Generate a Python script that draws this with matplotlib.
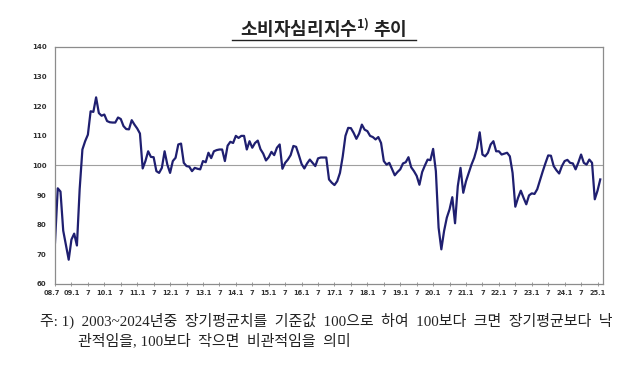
import numpy as np
import matplotlib.pyplot as plt
import matplotlib.transforms as mtransforms
from matplotlib.lines import Line2D

plt.rcParams['font.family'] = ['Noto Sans CJK KR', 'DejaVu Sans']

# consumer sentiment index, monthly, 2008.7 ~ 2025.2
y2008 = [74, 92.3, 91.2, 78, 73, 68.2]  # Jul-Dec
y2009 = [75, 77, 73, 92, 105.4, 108.2, 110.4, 118.3, 118.1, 123, 117.7, 116.8]
y2010 = [117.2, 115, 114.6, 114.5, 114.5, 116.2, 115.7, 113.3, 112.3, 112.2, 115.3, 113.8]
y2011 = [112.5, 110.8, 99, 101.5, 104.8, 102.9, 102.8, 98.1, 97.5, 99.2, 104.8, 100.3]
y2012 = [97.5, 101.5, 102.6, 107.1, 107.4, 100.9, 99.8, 99.6, 98.1, 99.2, 98.9, 98.7]
y2013 = [101.5, 101.1, 104.3, 102.5, 104.8, 105.2, 105.4, 105.4, 101.5, 106.7, 108, 107.6]
y2014 = [110, 109.3, 110, 110, 105.4, 108.2, 106, 107.6, 108.4, 105.5, 104, 101.7]
y2015 = [102.8, 104.6, 103.5, 106, 107.1, 98.9, 100.9, 102, 103.5, 106.6, 106.3, 103.5]
y2016 = [100.5, 99, 100.7, 102, 100.9, 99.8, 102.4, 102.7, 102.7, 102.7, 95.3, 94.2]
y2017 = [93.4, 94.7, 97.5, 103, 110, 112.7, 112.6, 111, 109, 110.8, 113.8, 112.1]
y2018 = [111.6, 110, 109.6, 108.8, 109.6, 107.6, 101.5, 100.3, 100.9, 98.8, 96.7, 97.8]
y2019 = [98.7, 100.7, 101.1, 102.8, 99.4, 98.1, 96.5, 93.5, 97.8, 100, 102, 101.8]
y2020 = [105.6, 98.1, 79, 71.7, 77.9, 82.4, 85.2, 89.3, 80.5, 93, 99.2, 90.8]
y2021 = [94.7, 97.5, 100.3, 102.6, 105.9, 111.2, 103.7, 103.1, 104.3, 107.1, 108.2, 104.8]
y2022 = [104.8, 103.7, 104, 104.3, 103.1, 97.5, 86.1, 89.1, 91.5, 89.1, 86.9, 89.9]
y2023 = [90.6, 90.4, 92, 95, 98, 100.8, 103.4, 103.3, 99.8, 98.4, 97.3, 99.8]
y2024 = [101.5, 101.9, 100.9, 100.7, 98.7, 101, 103.7, 100.9, 100.3, 102, 100.9, 88.6]
y2025 = [91.5, 95.3]  # Jan-Feb

values = (y2008 + y2009 + y2010 + y2011 + y2012 + y2013 + y2014 + y2015 + y2016
          + y2017 + y2018 + y2019 + y2020 + y2021 + y2022 + y2023 + y2024 + y2025)
months = np.arange(len(values))  # 0 = 2008.7

tick_labels = ['08.7', '09.1', '7', '10.1', '7', '11.1', '7', '12.1', '7', '13.1', '7',
               '14.1', '7', '15.1', '7', '16.1', '7', '17.1', '7', '18.1', '7', '19.1', '7',
               '20.1', '7', '21.1', '7', '22.1', '7', '23.1', '7', '24.1', '7', '25.1']
tick_pos = np.arange(len(tick_labels)) * 6

fig = plt.figure(figsize=(6.4, 3.68), dpi=100)
ax = fig.add_axes([55 / 640, 1 - 284 / 368, 548 / 640, 237 / 368])

ax.axhline(100, color='#a0a0a0', lw=0.8, zorder=1)
ax.plot(months, values, color='#1f1f70', lw=1.6, zorder=2)

ax.set_xlim(0, 200)
ax.set_ylim(60, 140)
ax.set_yticks(np.arange(60, 141, 10))
ax.set_xticks(tick_pos)
ax.set_xticklabels(tick_labels)

for s in ax.spines.values():
    s.set_color('#8c8c8c')
    s.set_linewidth(0.9)

ax.tick_params(axis='y', direction='in', length=0, labelsize=5, labelcolor='#333333', pad=6)
ax.tick_params(axis='x', direction='inout', length=3, width=0.6, color='#8c8c8c',
               labelsize=4.8, labelcolor='#333333', pad=3)
for lab in ax.get_xticklabels() + ax.get_yticklabels():
    lab.set_fontweight('bold')
    lab.set_family(['DejaVu Sans'])

# nudge 08.7 a little to the left so it clears 09.1
first = ax.get_xticklabels()[0]
first.set_transform(first.get_transform() + mtransforms.ScaledTranslation(-3 / 100, 0, fig.dpi_scale_trans))

# title with underline
fig.text(0.505, 1 - 28 / 368, r'소비자심리지수$^{\mathregular{1)}}$ 추이', ha='center', va='center',
         fontsize=13, fontweight='bold', color='#222222')
fig.add_artist(Line2D([232 / 640, 416 / 640], [1 - 40 / 368, 1 - 40 / 368], color='#222222', lw=1))

# footnote
note_font = ['Liberation Serif', 'Noto Sans CJK KR']
fig.text(40 / 640, 1 - 321 / 368, '주: 1)  2003~2024년중  장기평균치를  기준값  100으로  하여  100보다  크면  장기평균보다  낙',
         fontsize=10.8, family=note_font, va='center', color='#222222')
fig.text(78 / 640, 1 - 341 / 368, '관적임을, 100보다  작으면  비관적임을  의미',
         fontsize=10.8, family=note_font, va='center', color='#222222')

fig.savefig('out.png', dpi=100)
